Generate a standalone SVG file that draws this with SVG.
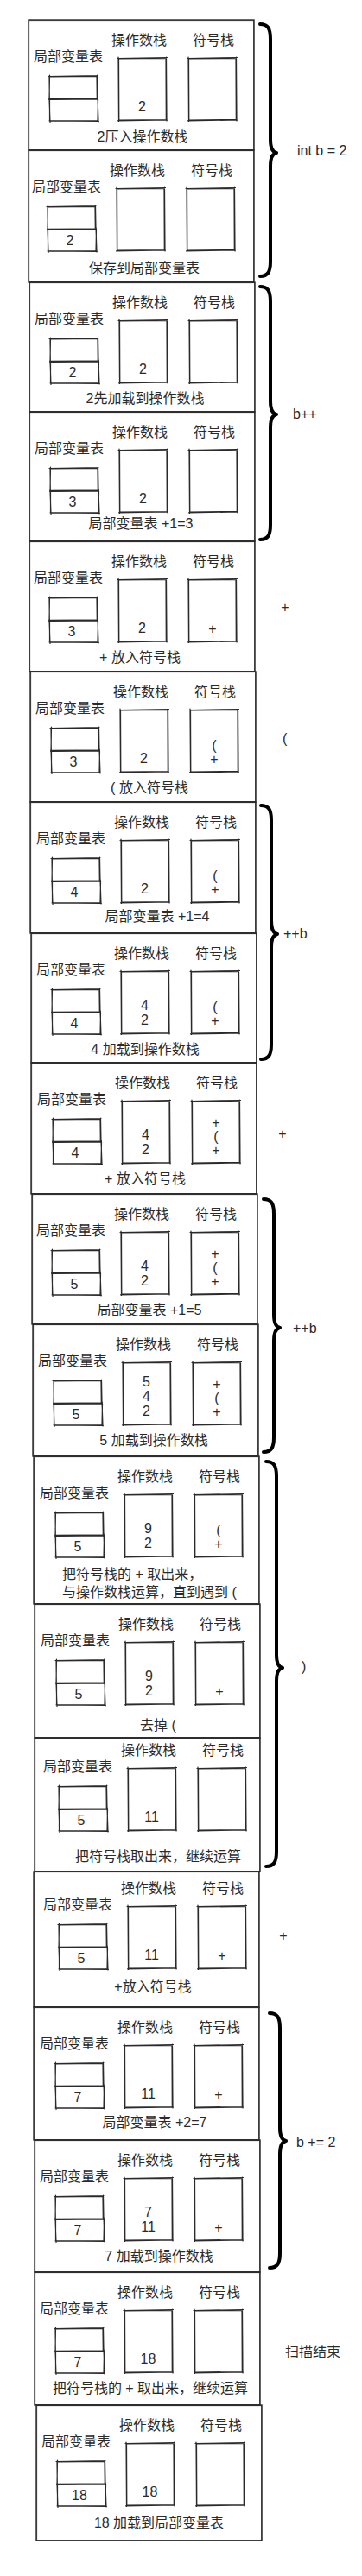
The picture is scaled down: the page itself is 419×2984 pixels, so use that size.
<svg xmlns="http://www.w3.org/2000/svg" width="419" height="2984" viewBox="0 0 419 2984">
<style>
.pn{fill:none;stroke:#2a2a2a;stroke-width:1.4}
.pn2{fill:none;stroke:#2a2a2a;stroke-width:0.8}
.bx{fill:none;stroke:#2a2a2a;stroke-width:1.2;stroke-linecap:round}
.t{font-family:"Liberation Sans","Noto Sans CJK SC",sans-serif;font-size:16px;fill:#2a2a2a}
.m{text-anchor:middle}
.br{fill:none;stroke:#000;stroke-width:4;stroke-linecap:round;stroke-linejoin:round}
</style>
<defs>
<g id="vbox">
<path class="bx" d="M-1,0.5 L56,-0.5 M55.5,-1 L56,27 M56.5,26 L-0.5,26.8 M0,27.5 L0.5,-1 M0.5,1 L55,0.5 M55,0.5 L55.3,26 M0,26 L55.5,26.3 M0.3,26 L0,0"/>
<path class="bx" d="M0,26.5 L56.5,26 M56,25 L57,53 M57.5,52.5 L0.5,52 M1,53.5 L0,26 M0.8,27.5 L56,27 M56.5,27 L56,52 M56,51.5 L0,51.8 M0.5,52 L0.5,27"/>
</g>
<g id="sbox">
<path class="bx" d="M-1,0.5 L56.5,-0.5 M55.5,-1 L56,73 M56.5,72 L-0.5,72.8 M0.5,73.5 L0,-1 M0.5,1 L55.5,0.5 M55,0.5 L55.3,72 M55.5,71.5 L0.5,72 M0.8,72 L0.5,0.5"/>
</g>
<g id="heads">
<text class="t m" x="22" y="48">局部变量表</text>
<text class="t m" x="104" y="29">操作数栈</text>
<text class="t m" x="190" y="29">符号栈</text>
<use href="#vbox" x="0" y="65"/>
<use href="#sbox" x="80" y="44"/>
<use href="#sbox" x="161" y="44"/>
</g>
</defs>
<rect x="0" y="0" width="419" height="2984" fill="#ffffff"/>

<g id="step1" transform="translate(57,23)">
<rect class="pn" x="-24" y="0" width="261" height="151"/><rect class="pn2" x="-23.3" y="0.7" width="260" height="150"/>
<use href="#heads"/>
<text class="t m" x="107.5" y="106">2</text>
<text class="t m" x="108" y="141">2压入操作数栈</text>
</g>

<g id="step2" transform="translate(55,174)">
<rect class="pn" x="-22" y="0" width="261" height="153"/><rect class="pn2" x="-21.3" y="0.7" width="260" height="152"/>
<use href="#heads"/>
<text class="t m" x="26" y="110">2</text>
<text class="t m" x="112" y="142">保存到局部变量表</text>
</g>

<g id="step3" transform="translate(58,327)">
<rect class="pn" x="-24" y="0" width="261" height="150"/><rect class="pn2" x="-23.3" y="0.7" width="260" height="149"/>
<use href="#heads"/>
<text class="t m" x="26" y="110">2</text>
<text class="t m" x="107.5" y="106">2</text>
<text class="t m" x="110" y="140">2先加载到操作数栈</text>
</g>

<g id="step4" transform="translate(58,477)">
<rect class="pn" x="-24" y="0" width="261" height="150"/><rect class="pn2" x="-23.3" y="0.7" width="260" height="149"/>
<use href="#heads"/>
<text class="t m" x="26" y="110">3</text>
<text class="t m" x="107.5" y="106">2</text>
<text class="t m" x="105" y="135">局部变量表 +1=3</text>
</g>

<g id="step5" transform="translate(57,627)">
<rect class="pn" x="-23" y="0" width="261" height="151"/><rect class="pn2" x="-22.3" y="0.7" width="260" height="150"/>
<use href="#heads"/>
<text class="t m" x="26" y="110">3</text>
<text class="t m" x="107.5" y="106">2</text>
<text class="t m" x="189" y="107">+</text>
<text class="t m" x="105" y="140">+ 放入符号栈</text>
</g>

<g id="step6" transform="translate(59,778)">
<rect class="pn" x="-24" y="0" width="261" height="151"/><rect class="pn2" x="-23.3" y="0.7" width="260" height="150"/>
<use href="#heads"/>
<text class="t m" x="26" y="110">3</text>
<text class="t m" x="107.5" y="106">2</text>
<text class="t m" x="189" y="91">(</text>
<text class="t m" x="189" y="107">+</text>
<text class="t m" x="114" y="140">( 放入符号栈</text>
</g>

<g id="step7" transform="translate(60,929)">
<rect class="pn" x="-25" y="0" width="261" height="152"/><rect class="pn2" x="-24.3" y="0.7" width="260" height="151"/>
<use href="#heads"/>
<text class="t m" x="26" y="110">4</text>
<text class="t m" x="107.5" y="106">2</text>
<text class="t m" x="189" y="91">(</text>
<text class="t m" x="189" y="107">+</text>
<text class="t m" x="122" y="138">局部变量表 +1=4</text>
</g>

<g id="step8" transform="translate(60,1081)">
<rect class="pn" x="-24" y="0" width="261" height="150"/><rect class="pn2" x="-23.3" y="0.7" width="260" height="149"/>
<use href="#heads"/>
<text class="t m" x="26" y="110">4</text>
<text class="t m" x="107.5" y="89">4</text>
<text class="t m" x="107.5" y="106">2</text>
<text class="t m" x="189" y="91">(</text>
<text class="t m" x="189" y="107">+</text>
<text class="t m" x="108" y="140">4 加载到操作数栈</text>
</g>

<g id="step9" transform="translate(61,1231)">
<rect class="pn" x="-25" y="0" width="261" height="152"/><rect class="pn2" x="-24.3" y="0.7" width="260" height="151"/>
<use href="#heads"/>
<text class="t m" x="26" y="110">4</text>
<text class="t m" x="107.5" y="89">4</text>
<text class="t m" x="107.5" y="106">2</text>
<text class="t m" x="189" y="75">+</text>
<text class="t m" x="189" y="91">(</text>
<text class="t m" x="189" y="107">+</text>
<text class="t m" x="107" y="140">+ 放入符号栈</text>
</g>

<g id="step10" transform="translate(60,1383)">
<rect class="pn" x="-23" y="0" width="261" height="151"/><rect class="pn2" x="-22.3" y="0.7" width="260" height="150"/>
<use href="#heads"/>
<text class="t m" x="26" y="110">5</text>
<text class="t m" x="107.5" y="89">4</text>
<text class="t m" x="107.5" y="106">2</text>
<text class="t m" x="189" y="75">+</text>
<text class="t m" x="189" y="91">(</text>
<text class="t m" x="189" y="107">+</text>
<text class="t m" x="113" y="140">局部变量表 +1=5</text>
</g>

<g id="step11" transform="translate(62,1534)">
<rect class="pn" x="-24" y="0" width="261" height="153"/><rect class="pn2" x="-23.3" y="0.7" width="260" height="152"/>
<use href="#heads"/>
<text class="t m" x="26" y="110">5</text>
<text class="t m" x="107.5" y="72">5</text>
<text class="t m" x="107.5" y="89">4</text>
<text class="t m" x="107.5" y="106">2</text>
<text class="t m" x="189" y="75">+</text>
<text class="t m" x="189" y="91">(</text>
<text class="t m" x="189" y="107">+</text>
<text class="t m" x="116" y="140">5 加载到操作数栈</text>
</g>

<g id="step12" transform="translate(64,1687)">
<rect class="pn" x="-25" y="0" width="261" height="171"/><rect class="pn2" x="-24.3" y="0.7" width="260" height="170"/>
<use href="#heads"/>
<text class="t m" x="26" y="110">5</text>
<text class="t m" x="107.5" y="89">9</text>
<text class="t m" x="107.5" y="106">2</text>
<text class="t m" x="189" y="91">(</text>
<text class="t m" x="189" y="107">+</text>
<text class="t" x="8" y="142">把符号栈的 + 取出来，</text>
<text class="t" x="8" y="163">与操作数栈运算，直到遇到 (</text>
</g>

<g id="step13" transform="translate(65,1858)">
<rect class="pn" x="-25" y="0" width="261" height="155"/><rect class="pn2" x="-24.3" y="0.7" width="260" height="154"/>
<use href="#heads"/>
<text class="t m" x="26" y="110">5</text>
<text class="t m" x="107.5" y="89">9</text>
<text class="t m" x="107.5" y="106">2</text>
<text class="t m" x="189" y="107">+</text>
<text class="t m" x="118" y="146">去掉 (</text>
</g>

<g id="step14" transform="translate(68,2013)">
<rect class="pn" x="-28" y="0" width="261" height="155"/><rect class="pn2" x="-27.3" y="0.7" width="260" height="154"/>
<g transform="translate(0,-9)">
<use href="#heads"/>
<text class="t m" x="26" y="110">5</text>
<text class="t m" x="107.5" y="106">11</text>
</g>
<text class="t m" x="115" y="143">把符号栈取出来，继续运算</text>
</g>

<g id="step15" transform="translate(68,2168)">
<rect class="pn" x="-29" y="0" width="261" height="157"/><rect class="pn2" x="-28.3" y="0.7" width="260" height="156"/>
<g transform="translate(0,-4)">
<use href="#heads"/>
<text class="t m" x="26" y="110">5</text>
<text class="t m" x="107.5" y="106">11</text>
<text class="t m" x="189" y="107">+</text>
</g>
<text class="t m" x="109" y="139">+放入符号栈</text>
</g>

<g id="step16" transform="translate(64,2325)">
<rect class="pn" x="-25" y="0" width="261" height="154"/><rect class="pn2" x="-24.3" y="0.7" width="260" height="153"/>
<use href="#heads"/>
<text class="t m" x="26" y="110">7</text>
<text class="t m" x="107.5" y="106">11</text>
<text class="t m" x="189" y="107">+</text>
<text class="t m" x="115" y="139">局部变量表 +2=7</text>
</g>

<g id="step17" transform="translate(64,2479)">
<rect class="pn" x="-24" y="0" width="261" height="153"/><rect class="pn2" x="-23.3" y="0.7" width="260" height="152"/>
<use href="#heads"/>
<text class="t m" x="26" y="110">7</text>
<text class="t m" x="107.5" y="89">7</text>
<text class="t m" x="107.5" y="106">11</text>
<text class="t m" x="189" y="107">+</text>
<text class="t m" x="120" y="140">7 加载到操作数栈</text>
</g>

<g id="step18" transform="translate(64,2632)">
<rect class="pn" x="-24" y="0" width="261" height="154"/><rect class="pn2" x="-23.3" y="0.7" width="260" height="153"/>
<use href="#heads"/>
<text class="t m" x="26" y="110">7</text>
<text class="t m" x="107.5" y="106">18</text>
<text class="t m" x="110" y="140">把符号栈的 + 取出来，继续运算</text>
</g>

<g id="step19" transform="translate(66,2786)">
<rect class="pn" x="-24" y="0" width="261" height="157"/><rect class="pn2" x="-23.3" y="0.7" width="260" height="156"/>
<use href="#heads"/>
<text class="t m" x="26" y="110">18</text>
<text class="t m" x="107.5" y="106">18</text>
<text class="t m" x="118" y="142">18 加载到局部变量表</text>
</g>

<g id="braces">
<path class="br" d="M301,28 C310,28 313,33 313,45 L313,162 C313,171 315,176 320,177 C315,178 313,183 313,192 L313,303 C313,315 310,320 301,320"/>
<path class="br" d="M301,332 C310,332 313,337 313,349 L313,465 C313,474 315,479 320,480 C315,481 313,486 313,495 L313,608 C313,620 310,625 301,625"/>
<path class="br" d="M302,933 C311,933 314,938 314,950 L314,1067 C314,1076 316,1081 321,1082 C316,1083 314,1088 314,1097 L314,1210 C314,1222 311,1227 302,1227"/>
<path class="br" d="M305,1389 C314,1389 317,1394 317,1406 L317,1523 C317,1532 319,1537 324,1538 C319,1539 317,1544 317,1553 L317,1665 C317,1677 314,1682 305,1682"/>
<path class="br" d="M308,1693 C317,1693 320,1698 320,1710 L320,1917 C320,1926 322,1931 327,1932 C322,1933 320,1938 320,1947 L320,2145 C320,2157 317,2162 308,2162"/>
<path class="br" d="M312,2332 C321,2332 324,2337 324,2349 L324,2465 C324,2474 326,2479 331,2480 C326,2481 324,2486 324,2495 L324,2610 C324,2622 321,2627 312,2627"/>
</g>

<g id="annotations">
<text class="t" x="344" y="180">int b = 2</text>
<text class="t" x="339" y="485">b++</text>
<text class="t m" x="330" y="709">+</text>
<text class="t" x="327" y="861">(</text>
<text class="t" x="328" y="1087">++b</text>
<text class="t m" x="327" y="1319">+</text>
<text class="t" x="339" y="1544">++b</text>
<text class="t" x="349" y="1936">)</text>
<text class="t m" x="328" y="2248">+</text>
<text class="t" x="343" y="2487">b += 2</text>
<text class="t" x="330" y="2730">扫描结束</text>
</g>
</svg>
